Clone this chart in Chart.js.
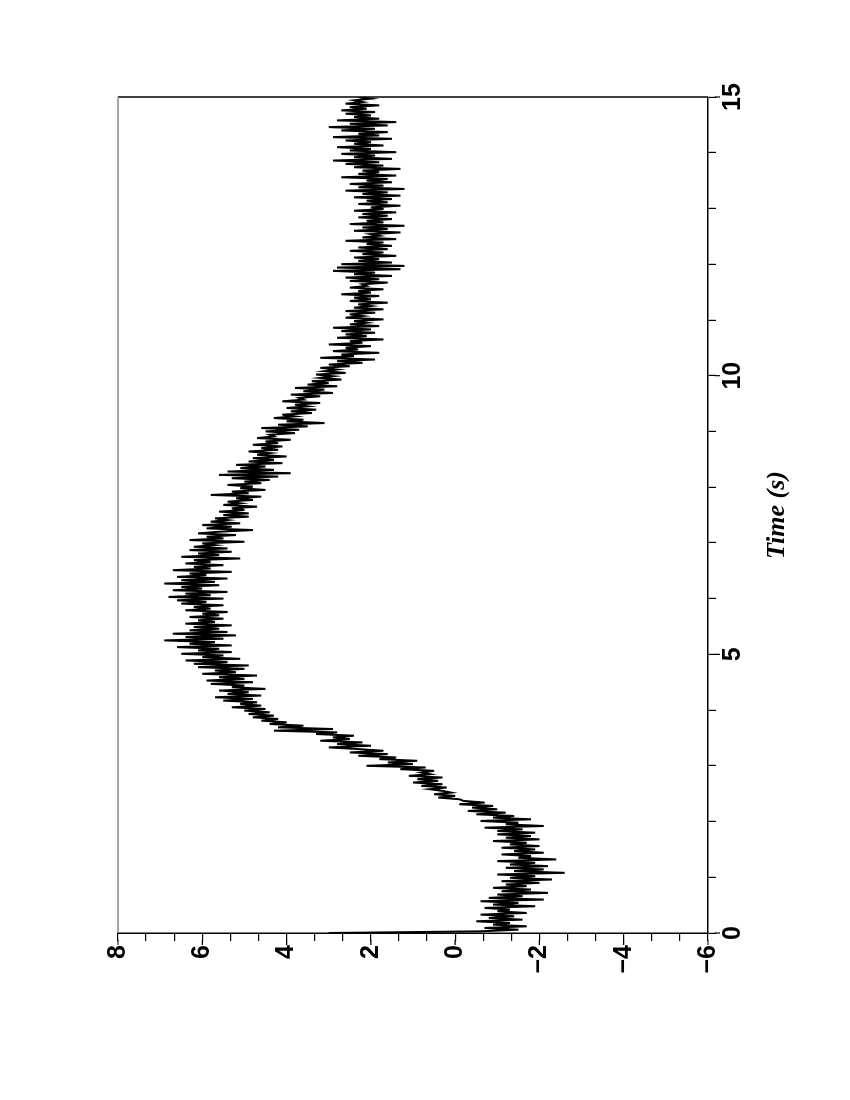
<!DOCTYPE html>
<html>
<head>
<meta charset="utf-8">
<script src="https://cdn.jsdelivr.net/npm/chart.js@4.4.1/dist/chart.umd.min.js"></script>
<style>
    html, body { margin: 0; padding: 0; width: 850px; height: 1100px; overflow: hidden; background: #fff; }
    /* the plot is printed sideways: draw it upright, then turn the whole box */
    #wrap { position: absolute; left: 0; top: 1100px; width: 1100px; height: 850px;
            transform-origin: 0 0; transform: rotate(-90deg); }
</style>
</head>
<body>
<div id="wrap"><canvas id="timeChart" width="1100" height="850"></canvas></div>
<script>
// sample spacing of the recorded trace (s)
var sampleStep = 0.03;

var signal = [
    3.0, -0.6, -1.5, -0.7, -1.7, -0.9, -1.3, -0.5, -1.6, -0.8,
    -1.4, -0.6, -1.7, -1.0, -1.3, -0.7, -1.9, -0.9, -1.5, -0.6,
    -2.1, -0.8, -1.6, -1.0, -2.2, -1.1, -1.8, -0.9, -1.7, -1.2,
    -2.0, -1.1, -2.3, -1.3, -1.9, -1.0, -2.6, -1.4, -2.1, -1.2,
    -2.2, -1.3, -1.9, -1.0, -2.4, -1.5, -1.8, -1.1, -2.1, -1.4,
    -1.9, -1.1, -2.0, -1.3, -1.7, -0.9, -2.0, -1.2, -1.8, -1.0,
    -1.9, -1.0, -1.6, -0.7, -2.1, -1.2, -1.5, -0.6, -1.8, -0.9,
    -1.4, -0.5, -1.2, -0.3, -1.0, -0.4, -0.9, -0.1, -0.7, -0.2,
    -0.1, 0.4, 0.0, 0.5, 0.1, 0.3, 0.6, 0.2, 0.8, 0.3,
    1.0, 0.4, 0.9, 0.3, 1.1, 0.6, 0.8, 0.5, 1.3, 0.7,
    2.1, 1.0, 1.6, 0.9, 1.8, 1.4, 2.3, 1.6, 2.5, 1.7,
    2.3, 3.0, 2.0, 2.8, 2.2, 3.2, 2.5, 2.9, 2.4, 3.3,
    2.8, 4.3, 2.9, 4.2, 3.6, 4.4, 4.0, 4.6, 4.2, 4.8,
    4.3, 4.9, 4.4, 5.0, 4.5, 5.3, 4.6, 5.1, 4.7, 5.5,
    4.8, 5.7, 4.6, 5.4, 4.9, 5.6, 4.5, 5.3, 5.0, 5.8,
    4.8, 5.9, 5.0, 5.6, 4.7, 6.0, 5.2, 5.7, 5.0, 6.1,
    4.9, 6.2, 5.4, 6.4, 5.1, 6.0, 5.5, 6.5, 5.3, 6.1,
    5.6, 6.6, 5.3, 6.3, 5.7, 6.9, 5.5, 6.4, 5.2, 6.7,
    5.4, 6.3, 5.6, 6.2, 5.3, 6.4, 5.7, 6.1, 5.5, 6.3,
    5.6, 6.0, 5.4, 6.4, 5.8, 6.2, 5.5, 6.5, 5.9, 6.6,
    5.5, 6.8, 5.8, 6.4, 5.4, 6.7, 6.0, 6.5, 5.6, 6.9,
    5.7, 6.5, 5.4, 6.6, 5.9, 6.3, 5.3, 6.7, 5.8, 6.2,
    5.5, 6.4, 5.8, 6.2, 5.1, 6.5, 5.6, 6.1, 5.3, 6.3,
    5.4, 6.2, 5.7, 6.0, 5.0, 6.3, 5.5, 5.9, 5.2, 6.1,
    5.6, 4.8, 5.9, 5.3, 6.0, 5.1, 5.8, 5.4, 5.7, 4.9,
    5.5, 4.9, 5.6, 5.0, 5.3, 4.7, 5.5, 5.1, 5.4, 4.8,
    5.2, 4.6, 5.8, 4.9, 5.3, 4.5, 5.1, 4.8, 5.4, 4.6,
    5.0, 4.4, 5.3, 4.2, 5.6, 3.9, 5.4, 4.3, 5.1, 4.5,
    5.2, 4.1, 4.9, 4.3, 4.8, 4.0, 4.7, 4.4, 4.9, 4.2,
    4.6, 4.1, 4.8, 4.2, 4.5, 3.9, 4.7, 4.3, 4.4, 3.8,
    4.5, 3.7, 4.6, 3.5, 4.2, 3.1, 4.0, 3.6, 4.3, 3.8,
    4.1, 3.4, 3.9, 3.3, 4.0, 3.5, 3.8, 3.2, 4.1, 3.6,
    3.7, 3.2, 3.9, 2.9, 3.6, 3.1, 3.8, 2.8, 3.5, 3.0,
    3.4, 2.7, 3.2, 2.9, 3.3, 2.6, 3.1, 2.8, 3.2, 2.5,
    3.0, 2.2, 2.8, 1.9, 3.2, 2.4, 2.7, 1.8, 2.9, 2.3,
    2.6, 2.0, 3.0, 2.2, 2.5, 1.7, 2.8, 2.1, 2.6, 1.9,
    2.7, 2.0, 2.9, 1.8, 2.5, 2.1, 2.4, 1.7, 2.6, 2.2,
    2.5, 1.9, 2.6, 1.7, 2.4, 2.0, 2.3, 1.6, 2.5, 2.0,
    2.4, 1.8, 2.7, 2.0, 2.3, 1.7, 2.5, 2.1, 2.2, 1.6,
    2.5, 1.8, 2.6, 1.5, 2.4, 1.9, 2.9, 1.3, 2.8, 1.2,
    2.7, 1.5, 2.3, 1.8, 2.4, 1.4, 2.2, 1.7, 2.5, 1.6,
    2.3, 1.5, 2.1, 1.7, 2.6, 1.4, 2.2, 1.8, 2.0, 1.3,
    2.4, 1.6, 2.2, 1.2, 2.5, 1.7, 2.1, 1.5, 2.3, 1.6,
    2.2, 1.4, 2.4, 1.7, 2.0, 1.3, 2.3, 1.6, 2.1, 1.5,
    2.4, 1.3, 2.2, 1.6, 2.6, 1.2, 2.3, 1.7, 2.5, 1.5,
    2.1, 1.6, 2.7, 1.4, 2.3, 1.8, 2.2, 1.3, 2.4, 1.7,
    2.6, 1.8, 2.9, 1.5, 2.4, 1.9, 2.7, 1.4, 2.5, 2.0,
    2.8, 1.7, 2.4, 2.0, 2.6, 1.5, 2.9, 1.8, 2.3, 1.6,
    2.7, 1.9, 3.0, 1.6, 2.5, 1.4, 2.8, 1.8, 2.4, 2.0,
    2.6, 1.9, 2.7, 2.1, 2.5, 1.8, 2.6, 2.2, 2.4, 2.0,
    2.3
];

// labelled ticks
var timeLabels = [0, 5, 10, 15];
var valueLabels = [-6, -4, -2, 0, 2, 4, 6, 8];

var points = signal.map(function(v, i) {
    return { x: Math.round(i * sampleStep * 100) / 100, y: v };
});

function isLabelled(list, v) {
    var r = Math.round(v);
    return Math.abs(v - r) < 1e-6 && list.indexOf(r) >= 0;
}

// box edges and the longer major tick marks
var framePlugin = {
    id: 'frame',
    afterDraw: function(chart) {
        var ctx = chart.ctx;
        var a = chart.chartArea;
        var xs = chart.scales.x, ys = chart.scales.y;
        ctx.save();
        ctx.lineWidth = 1.5;
        ctx.strokeStyle = '#000';
        ctx.beginPath();
        ctx.moveTo(a.right, a.top);
        ctx.lineTo(a.right, a.bottom);
        ctx.stroke();
        ctx.strokeStyle = '#888';
        ctx.beginPath();
        ctx.moveTo(a.left, a.top);
        ctx.lineTo(a.right, a.top);
        ctx.stroke();

        ctx.strokeStyle = '#000';
        ctx.lineWidth = 1.2;
        ctx.beginPath();
        xs.ticks.forEach(function(t) {
            if (!isLabelled(timeLabels, t.value)) return;
            var px = xs.getPixelForValue(t.value);
            ctx.moveTo(px, a.bottom + 7);
            ctx.lineTo(px, a.bottom + 12);
        });
        ys.ticks.forEach(function(t) {
            if (!isLabelled(valueLabels, t.value)) return;
            var py = ys.getPixelForValue(t.value);
            ctx.moveTo(a.left - 7, py);
            ctx.lineTo(a.left - 12, py);
        });
        ctx.stroke();
        ctx.restore();
    }
};

var tickFont = { family: 'Liberation Sans', weight: 'bold', size: 25 };

var ctx = document.getElementById('timeChart').getContext('2d');
var timeChart = new Chart(ctx, {
    type: 'line',
    data: {
        datasets: [{
            data: points,
            borderColor: '#000',
            borderWidth: 2,
            pointRadius: 0,
            tension: 0,
            fill: false
        }]
    },
    options: {
        responsive: false,
        animation: false,
        layout: { padding: { top: 118, right: 97, bottom: 0, left: 0 } },
        plugins: { legend: { display: false }, tooltip: { enabled: false } },
        scales: {
            x: {
                type: 'linear',
                min: 0,
                max: 15,
                afterFit: function(scale) { scale.height = 142; },
                border: { display: true, color: '#000', width: 1.5 },
                grid: { drawOnChartArea: false, drawTicks: true, tickLength: 8, color: '#000', lineWidth: 1.2 },
                ticks: {
                    stepSize: 1,
                    autoSkip: false,
                    maxRotation: 0,
                    padding: 2,
                    color: '#000',
                    font: tickFont,
                    callback: function(v) { return isLabelled(timeLabels, v) ? String(Math.round(v)) : ''; }
                },
                title: {
                    display: true,
                    text: 'Time (s)',
                    color: '#000',
                    font: { family: 'Liberation Serif', style: 'italic', weight: 'bold', size: 26 },
                    padding: { top: 0, bottom: 57 }
                }
            },
            y: {
                min: -6,
                max: 8,
                afterFit: function(scale) { scale.width = 167; },
                border: { display: true, color: '#000', width: 1.5 },
                grid: { drawOnChartArea: false, drawTicks: true, tickLength: 8, color: '#000', lineWidth: 1.2 },
                ticks: {
                    stepSize: 2 / 3,
                    autoSkip: false,
                    padding: 4,
                    color: '#000',
                    font: tickFont,
                    callback: function(v) {
                        if (!isLabelled(valueLabels, v)) return '';
                        var r = Math.round(v);
                        return r < 0 ? '\u2212' + (-r) : String(r);
                    }
                }
            }
        }
    },
    plugins: [framePlugin]
});
</script>
</body>
</html>
